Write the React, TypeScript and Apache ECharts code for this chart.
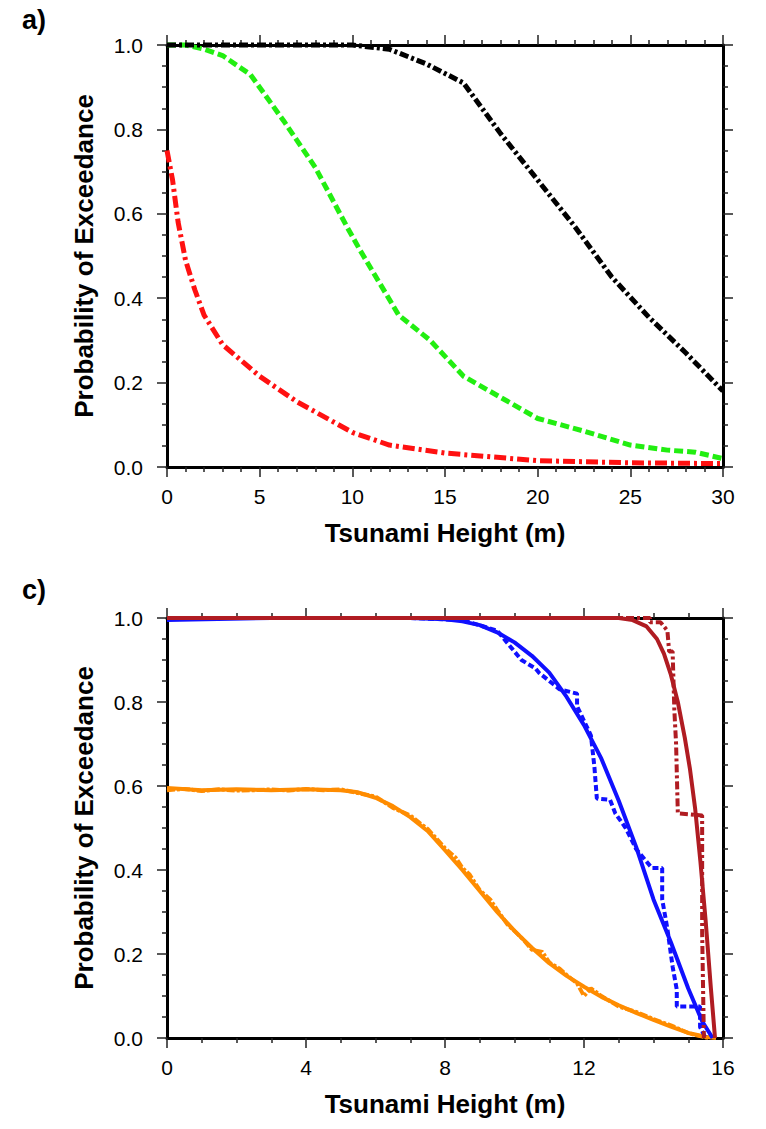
import React, { useEffect, useRef } from "react";
import * as echarts from "echarts";

// ---- Panel a) data: [tsunami height (m), probability of exceedance]
const blackA: number[][] = [
  [0, 1], [2, 1], [4, 1], [6, 1], [8, 1], [10, 1], [12, 0.99], [14, 0.955], [16, 0.91],
  [18, 0.79], [20, 0.68], [22, 0.57], [24, 0.45], [26, 0.355], [28, 0.27], [30, 0.18],
];
const greenA: number[][] = [
  [0, 1], [1, 1], [2, 0.99], [3, 0.975], [4.5, 0.93], [6.3, 0.82], [8, 0.71], [9.7, 0.57],
  [10.4, 0.515], [12.5, 0.36], [14.2, 0.3], [16, 0.215], [18, 0.165], [20, 0.115],
  [22.5, 0.085], [25, 0.052], [27, 0.04], [28.5, 0.035], [30, 0.02],
];
const redA: number[][] = [
  [0, 0.75], [0.3, 0.68], [0.6, 0.58], [1, 0.49], [1.5, 0.42], [2, 0.36], [3, 0.29],
  [5, 0.215], [7, 0.155], [10, 0.082], [12, 0.052], [15, 0.033], [20, 0.015], [25, 0.01], [30, 0.008],
];

// ---- Panel c) data
const orangeFit: number[][] = [
  [0, 0.595], [1, 0.59], [2, 0.592], [3, 0.59], [4, 0.592], [5, 0.59], [5.5, 0.585], [6, 0.572],
  [6.5, 0.552], [7, 0.526], [7.5, 0.493], [8, 0.447], [8.5, 0.4], [9, 0.35], [9.5, 0.3],
  [10, 0.255], [10.5, 0.215], [11, 0.178], [11.5, 0.148], [12, 0.122], [12.5, 0.098],
  [13, 0.078], [13.5, 0.06], [14, 0.043], [14.5, 0.027], [15, 0.012], [15.5, 0.003], [15.8, 0],
];
const orangeEmp: number[][] = [
  [0, 0.59], [0.5, 0.593], [1, 0.588], [1.5, 0.592], [2, 0.589], [2.5, 0.59], [3, 0.592],
  [3.5, 0.589], [4, 0.593], [4.5, 0.59], [5, 0.592], [5.5, 0.583], [6, 0.575], [6.5, 0.548],
  [7, 0.53], [7.3, 0.51], [7.5, 0.498], [8, 0.452], [8.3, 0.43], [8.5, 0.405], [8.7, 0.39],
  [9, 0.352], [9.3, 0.33], [9.5, 0.305], [9.8, 0.27], [10, 0.255], [10.3, 0.23], [10.5, 0.21],
  [10.8, 0.205], [11, 0.18], [11.3, 0.165], [11.5, 0.15], [11.8, 0.13], [12, 0.1], [12.2, 0.118],
  [12.5, 0.1], [13, 0.075], [13.5, 0.062], [14, 0.045], [14.5, 0.03], [15, 0.012], [15.3, 0.005], [15.6, 0],
];
const blueFit: number[][] = [
  [0, 0.995], [3, 1], [7, 1], [8, 0.997], [8.5, 0.992], [9, 0.983], [9.5, 0.966], [10, 0.942],
  [10.5, 0.91], [11, 0.87], [11.5, 0.812], [12, 0.745], [12.5, 0.665], [13, 0.565], [13.5, 0.455],
  [14, 0.33], [14.5, 0.228], [15, 0.118], [15.4, 0.04], [15.7, 0],
];
const blueEmp: number[][] = [
  [0, 1], [7, 1], [8.5, 0.995], [9.5, 0.97], [10.2, 0.9], [10.6, 0.88], [10.7, 0.87], [11.3, 0.83],
  [11.8, 0.82], [11.8, 0.79], [12.2, 0.72], [12.3, 0.645], [12.37, 0.57], [12.75, 0.567],
  [12.9, 0.535], [13.2, 0.5], [13.5, 0.45], [13.95, 0.405], [14.25, 0.405], [14.25, 0.33],
  [14.4, 0.26], [14.55, 0.17], [14.67, 0.115], [14.67, 0.075], [15.34, 0.075], [15.34, 0.026], [15.5, 0],
];
const redFit: number[][] = [
  [0, 1], [13, 1], [13.4, 0.995], [13.8, 0.98], [14.1, 0.95], [14.3, 0.915], [14.5, 0.865],
  [14.7, 0.8], [14.9, 0.715], [15.05, 0.64], [15.2, 0.545], [15.35, 0.42], [15.5, 0.28],
  [15.65, 0.12], [15.77, 0],
];
const redEmp: number[][] = [
  [0, 1], [13.9, 1], [13.9, 0.99], [14.2, 0.99], [14.4, 0.97], [14.45, 0.92], [14.55, 0.92],
  [14.6, 0.78], [14.65, 0.7], [14.7, 0.535], [15.4, 0.53], [15.4, 0.25], [15.45, 0],
];

const xTicksA = { min: 0, max: 30, interval: 5, minorSplit: 5 };
const xTicksC = { min: 0, max: 16, interval: 4, minorSplit: 4 };
const yTicks = { min: 0, max: 1, interval: 0.2, minorSplit: 4 };

const FONT = "Liberation Sans, Arial, Helvetica, sans-serif";

function xAxes(grid: number, t: typeof xTicksA) {
  const base = {
    type: "value" as const,
    gridIndex: grid,
    min: t.min,
    max: t.max,
    interval: t.interval,
    splitLine: { show: false },
    axisLine: { show: true, onZero: false, lineStyle: { color: "#000", width: 3 } },
    axisTick: { show: true, length: 10, lineStyle: { color: "#222", width: 1.5 } },
    minorTick: { show: true, splitNumber: t.minorSplit, length: 5, lineStyle: { color: "#222", width: 1.5 } },
    minorSplitLine: { show: false },
  };
  return [
    {
      ...base,
      position: "bottom",
      name: "Tsunami Height (m)",
      nameLocation: "middle",
      nameGap: 53,
      nameTextStyle: { fontFamily: FONT, fontWeight: "bold", fontSize: 26, color: "#000" },
      axisLabel: { fontFamily: FONT, fontSize: 21, color: "#000", margin: 19 },
    },
    { ...base, position: "top", axisLabel: { show: false } },
  ];
}

function yAxes(grid: number) {
  const base = {
    type: "value" as const,
    gridIndex: grid,
    min: yTicks.min,
    max: yTicks.max,
    interval: yTicks.interval,
    splitLine: { show: false },
    axisLine: { show: true, onZero: false, lineStyle: { color: "#000", width: 3 } },
    axisTick: { show: true, length: 10, lineStyle: { color: "#222", width: 1.5 } },
    minorTick: { show: true, splitNumber: yTicks.minorSplit, length: 5, lineStyle: { color: "#222", width: 1.5 } },
    minorSplitLine: { show: false },
  };
  return [
    {
      ...base,
      position: "left",
      name: "Probability of Exceedance",
      nameLocation: "middle",
      nameGap: 70,
      nameTextStyle: { fontFamily: FONT, fontWeight: "bold", fontSize: 26, color: "#000" },
      axisLabel: {
        fontFamily: FONT,
        fontSize: 21,
        color: "#000",
        margin: 24,
        formatter: (v: number) => v.toFixed(1),
      },
    },
    { ...base, position: "right", axisLabel: { show: false } },
  ];
}

function line(
  data: number[][],
  axisIdx: number,
  color: string,
  type: any,
  width = 5,
  z = 2
) {
  return {
    type: "line",
    xAxisIndex: axisIdx,
    yAxisIndex: axisIdx,
    data,
    showSymbol: false,
    symbol: "none",
    clip: false,
    z,
    lineStyle: { color, width, type, cap: "butt" },
  };
}

export default function App() {
  const ref = useRef<HTMLDivElement>(null);
  useEffect(() => {
    document.body.style.margin = "0";
    const chart = echarts.init(ref.current!, undefined, { renderer: "svg" });
    const xa = xAxes(0, xTicksA);
    const xc = xAxes(1, xTicksC);
    const ya = yAxes(0);
    const yc = yAxes(1);
    chart.setOption({
      animation: false,
      backgroundColor: "#fff",
      grid: [
        { left: 167, top: 45, width: 556, height: 422 },
        { left: 167, top: 618, width: 556, height: 420 },
      ],
      // axis order: 0 = a bottom, 1 = a top, 2 = c bottom, 3 = c top
      xAxis: [xa[0], xa[1], xc[0], xc[1]],
      yAxis: [ya[0], ya[1], yc[0], yc[1]],
      graphic: [
        { type: "text", left: 22, top: 6, style: { text: "a)", font: `bold 27px ${FONT}`, fill: "#000" } },
        { type: "text", left: 22, top: 576, style: { text: "c)", font: `bold 27px ${FONT}`, fill: "#000" } },
      ],
      series: [
        line(greenA, 0, "#22ee11", [9, 4]),
        line(redA, 0, "#ff1111", [12, 4, 3, 4]),
        line(blackA, 0, "#000000", [9, 3, 3, 3]),
        line(orangeEmp, 2, "#ff8c00", [8, 2, 3, 2], 4),
        line(orangeFit, 2, "#ff8c00", "solid", 4),
        line(blueEmp, 2, "#1010ff", [6, 3], 4),
        line(blueFit, 2, "#1010ff", "solid", 4),
        line(redEmp, 2, "#b01c22", [8, 3, 3, 3], 4),
        line(redFit, 2, "#b01c22", "solid", 4),
      ],
    });
    return () => chart.dispose();
  }, []);
  return <div ref={ref} style={{ width: 766, height: 1129 }} />;
}
